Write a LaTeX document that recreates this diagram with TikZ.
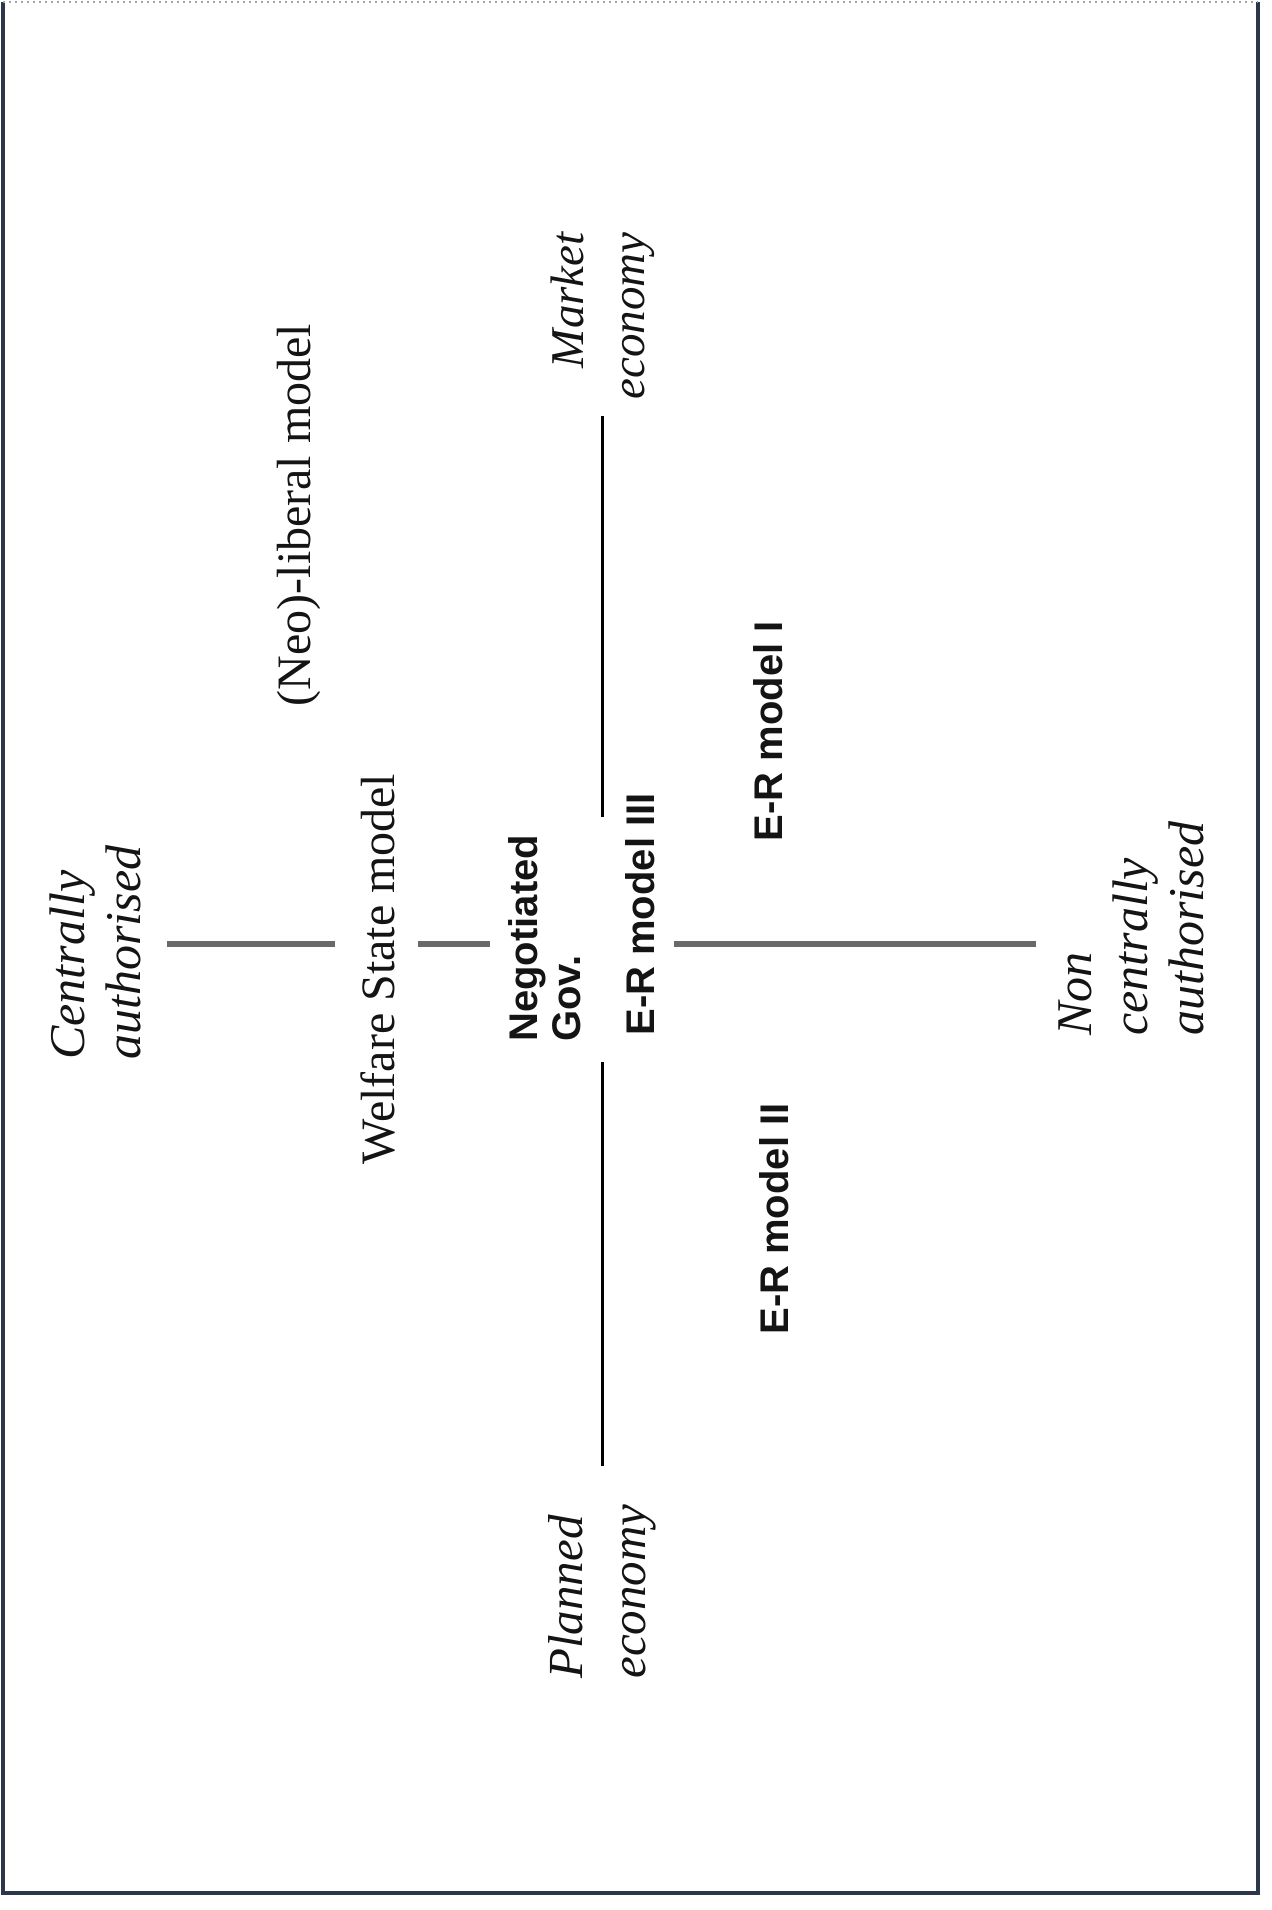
\documentclass[tikz,border=0pt]{standalone}
\usepackage{fontspec}
\setmainfont{Liberation Serif}
\setsansfont{Liberation Sans}
\definecolor{framecol}{RGB}{45,55,75}
\definecolor{axisgray}{RGB}{105,105,105}
\definecolor{inkcol}{RGB}{20,20,20}
\begin{document}
\begin{tikzpicture}[x=0.5pt,y=-0.5pt,
  base/.style={rotate=90, inner sep=0pt, text=inkcol},
  serifbig/.style={base, font=\fontsize{24}{26}\selectfont},
  italbl/.style={base, font=\fontsize{25}{28}\selectfont\itshape},
  sansbold/.style={base, font=\fontsize{20}{21.5}\selectfont\sffamily\bfseries},
  axisline/.style={draw=axisgray, line width=2.6pt},
  econline/.style={draw=black, line width=1.5pt},
  framesolid/.style={draw=framecol, line width=2.2pt},
  frametop/.style={draw=framecol!45, line width=1pt, dotted}]
\useasboundingbox (0,0) rectangle (1271,1910);
% frame
\coordinate (tl) at (3,2);
\coordinate (tr) at (1258,2);
\coordinate (bl) at (3,1893);
\coordinate (br) at (1258,1893);
\draw[framesolid] (tl) -- (bl) -- (br) -- (tr);
\draw[frametop] (tl) -- (tr);
% labels
\node[italbl, align=left, anchor=west] (cent) at (95,1060) {Centrally\\authorised};
\node[serifbig] (welf) at (378,969) {Welfare State model};
\node[serifbig] (neo) at (299,515) {(Neo)-liberal model};
\node[italbl, align=right, anchor=east, font=\fontsize{23.5}{30.5}\selectfont\itshape] (market) at (603,232) {Market\\economy};
\node[italbl, align=left, anchor=west, font=\fontsize{24.5}{31.5}\selectfont\itshape] (planned) at (602,1679) {Planned\\economy};
\node[italbl, align=left, anchor=west] (noncent) at (1131,1036) {Non\\centrally\\authorised};
\node[sansbold, align=left, anchor=west] (nego) at (545,1042) {Negotiated\\Gov.};
\node[sansbold, anchor=west] (er3) at (640,1036) {E-R model III};
\node[sansbold] (er1) at (768,731) {E-R model I};
\node[sansbold] (er2) at (774,1219) {E-R model II};
% axis (centrally / non centrally authorised)
\coordinate (a1) at (167,944);
\coordinate (a2) at (335,944);
\coordinate (a3) at (418,944);
\coordinate (a4) at (490,944);
\coordinate (a5) at (674,944);
\coordinate (a6) at (1036,944);
\draw[axisline] (a1) -- (a2);
\draw[axisline] (a3) -- (a4);
\draw[axisline] (a5) -- (a6);
% axis (market / planned economy)
\coordinate (m1) at (602,416);
\coordinate (m2) at (602,817);
\coordinate (p1) at (602,1062);
\coordinate (p2) at (602,1466);
\draw[econline] (m1) -- (m2);
\draw[econline] (p1) -- (p2);
\end{tikzpicture}
\end{document}
